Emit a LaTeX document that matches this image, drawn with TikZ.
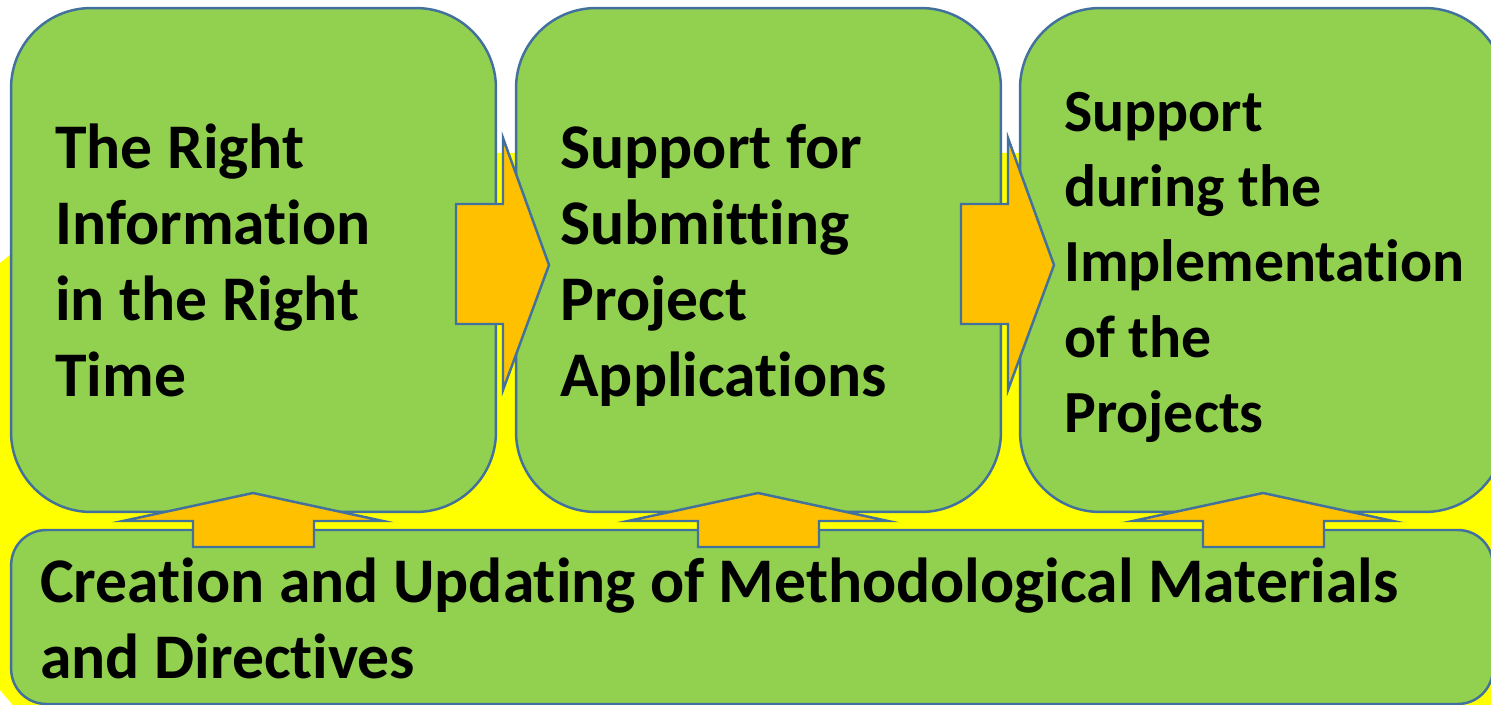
\documentclass[tikz,border=0pt]{standalone}
\usepackage{fontspec}
\setmainfont{Carlito}[Ligatures=NoCommon]
\usepackage{tikz}
\usetikzlibrary{shapes,arrows.meta}

\definecolor{boxGreen}{HTML}{92D050}
\definecolor{arrowOrange}{HTML}{FFC000}
\definecolor{lineBlue}{HTML}{41719C}
\definecolor{backYellow}{HTML}{FFFF00}
\newcommand{\normalGaps}{\spaceskip=0pt\relax\xspaceskip=0pt\relax}

\begin{document}
\begin{tikzpicture}[x=0.02cm,y=-0.02cm]
			\useasboundingbox (0,0) rectangle (1491,705);
			% yellow background
			\fill[backYellow] (0,263) -- (135,153) -- (1360,153) -- (1560,263)
				-- (1560,760) -- (60,760) -- (0,690) -- cycle;
			\begin{scope}
				[
					styleBox/.style={
						draw=lineBlue, line width=1.4pt, fill=boxGreen,
						rounded corners=1.6cm,
						minimum width=9.7cm, minimum height=10.08cm
						},
					styleBase/.style={
						draw=lineBlue, line width=1.4pt, fill=boxGreen,
						rounded corners=0.7cm,
						minimum width=29.64cm, minimum height=3.48cm
						},
					styleText/.style={anchor=west, align=left,
						inner xsep=0.88cm, inner ysep=0pt, text width=7.94cm,
						font=\fontsize{36.2}{43.2}\selectfont\bfseries,
						execute at begin node=\normalGaps},
					styleSmall/.style={styleText,
						font=\fontsize{34}{42.7}\selectfont\bfseries},
					styleBaseText/.style={styleText, inner xsep=0.58cm, text width=28.48cm},
				]
				\node(b1)[styleBox] at (253.5,260) {};
				\node(b2)[styleBox] at (758.5,260) {};
				\node(b3)[styleBox] at (1262.5,260) {};
				\node(base)[styleBase] at (752,617) {};

				\node(t1)[styleText] at (11,267) {\strut The Right\\Information\\in the Right\\Time\strut};
				\node(t2)[styleText] at (516,267) {\strut Support for\\Submitting\\Project\\Applications\strut};
				\node(t3)[styleSmall] at (1020,267) {\strut Support\\during the\\Implementation\\of the\\Projects\strut};
				\node(tb)[styleBaseText] at (11,625) {\strut Creation and Updating of Methodological Materials\\and Directives\strut};
			\end{scope}
			\begin{scope}
				[ styleArrow/.style = {draw=lineBlue, line width=1.4pt, fill=arrowOrange, line join=miter} ]
				% right arrows between the boxes
				\coordinate(r1) at (503,138);
				\coordinate(r2) at (1008,138);
				\draw[styleArrow] (r1) -- ++(46,127) -- ++(-46,125) -- ++(0,-66)
					-- ++(-47,0) -- ++(0,-120) -- ++(47,0) -- cycle;
				\draw[styleArrow] (r2) -- ++(46,127) -- ++(-46,125) -- ++(0,-66)
					-- ++(-47,0) -- ++(0,-120) -- ++(47,0) -- cycle;

				% up arrows from the base
				\coordinate(u1) at (253,493);
				\coordinate(u2) at (758,493);
				\coordinate(u3) at (1263,493);
				\draw[styleArrow] (u1) -- ++(130,28) -- ++(-69,0) -- ++(0,26)
					-- ++(-121,0) -- ++(0,-26) -- ++(-70,0) -- cycle;
				\draw[styleArrow] (u2) -- ++(130,28) -- ++(-69,0) -- ++(0,26)
					-- ++(-121,0) -- ++(0,-26) -- ++(-70,0) -- cycle;
				\draw[styleArrow] (u3) -- ++(130,28) -- ++(-69,0) -- ++(0,26)
					-- ++(-121,0) -- ++(0,-26) -- ++(-70,0) -- cycle;
			\end{scope}
		\end{tikzpicture}
\end{document}
